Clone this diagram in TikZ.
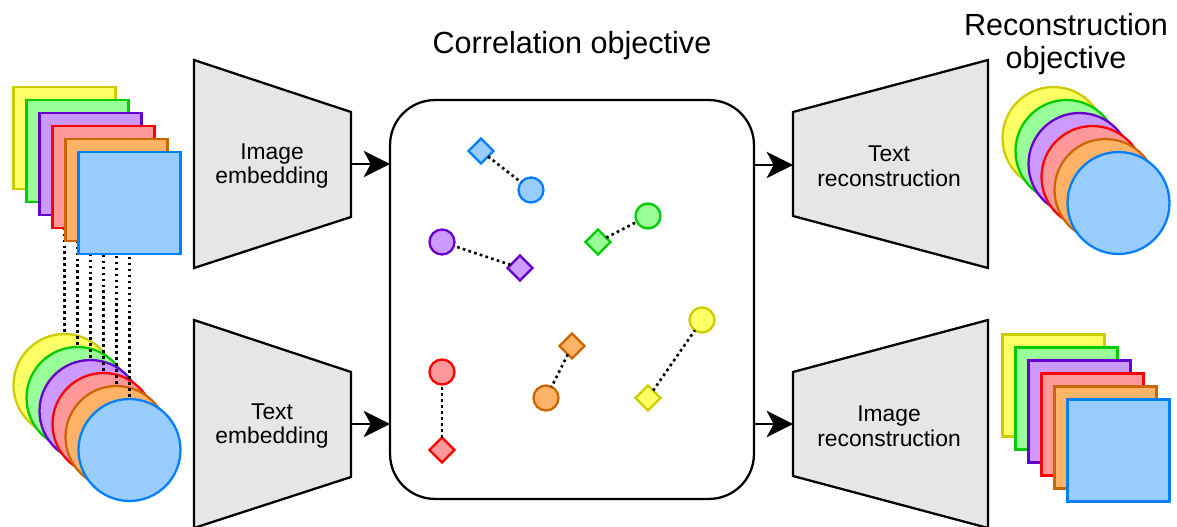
\documentclass[tikz,border=0pt]{standalone}
\usepackage{fontspec}
\setmainfont{Liberation Sans}
\usetikzlibrary{shapes.geometric,arrows.meta}
\definecolor{yelFill}{HTML}{FFFF66}\definecolor{yelLine}{HTML}{CCCC00}
\definecolor{grnFill}{HTML}{99FF99}\definecolor{grnLine}{HTML}{00CC00}
\definecolor{purFill}{HTML}{CC99FF}\definecolor{purLine}{HTML}{6600CC}
\definecolor{redFill}{HTML}{FF9999}\definecolor{redLine}{HTML}{FF0000}
\definecolor{orgFill}{HTML}{FFB366}\definecolor{orgLine}{HTML}{CC6600}
\definecolor{bluFill}{HTML}{99CCFF}\definecolor{bluLine}{HTML}{007FFF}
\definecolor{trapFill}{HTML}{E6E6E6}
\begin{document}
\begin{tikzpicture}[x=0.02cm,y=-0.02cm,line width=1.3pt,
  every node/.style={inner sep=0pt,outer sep=0pt},
  card/.style={rectangle,draw=#1Line,fill=#1Fill,minimum size=2.04cm},
  disc/.style={circle,draw=#1Line,fill=#1Fill,minimum size=2.04cm},
  mcirc/.style={circle,draw=#1Line,fill=#1Fill,minimum size=0.5cm},
  mdiam/.style={diamond,draw=#1Line,fill=#1Fill,minimum size=0.5cm},
  dots/.style={line width=1.5pt,dash pattern=on 1.5pt off 1.9pt},
  trap/.style={draw,fill=trapFill},
  arr/.style={-{Stealth[length=15pt,width=15pt,inset=4pt]}},
  lbl/.style={align=center,font=\fontsize{13}{14.2}\selectfont},
  ttl/.style={align=center,font=\fontsize{17.4}{18.7}\selectfont}]
\useasboundingbox (0,0) rectangle (1177,527);
% inputs: circles, dotted links, then squares on top
\foreach \c [count=\i from 0] in {yel,grn,pur,red,org,blu}
 \node[disc=\c] (inC\i) at ({64.5+13*\i},{385+13*\i}) {};
\foreach \i in {0,...,5}
 {\coordinate (inS\i) at ({64.5+13*\i},{138+13*\i});
 \draw[dots] (inS\i) -- (inC\i.north);}
\foreach \c [count=\i from 0] in {yel,grn,pur,red,org,blu}
 \node[card=\c] (inSq\i) at (inS\i) {};
% outputs
\foreach \c [count=\i from 0] in {yel,grn,pur,red,org,blu}
 {\node[disc=\c] (outC\i) at ({1053.5+13*\i},{138+13*\i}) {};
 \node[card=\c] (outSq\i) at ({1053.5+13*\i},{385.5+13*\i}) {};}
% encoders and decoders
\draw[trap] (194,60) -- (351,112) -- (351,217) -- (194,268) -- cycle;
\draw[trap] (194,320) -- (351,372) -- (351,477) -- (194,528) -- cycle;
\draw[trap] (793,112) -- (988,60) -- (988,268) -- (793,216) -- cycle;
\draw[trap] (793,372) -- (988,320) -- (988,528) -- (793,476) -- cycle;
\coordinate (encImgR) at (351,164);
\coordinate (encTxtR) at (351,424);
\coordinate (decTxtL) at (793,165);
\coordinate (decImgL) at (793,424);
\node[lbl] (encImg) at (272,166) {Image\\embedding};
\node[lbl] (encTxt) at (272,426) {Text\\embedding};
\node[lbl] (decTxt) at (889,166) {Text\\reconstruction};
\node[lbl] (decImg) at (889,426) {Image\\reconstruction};
% shared space
\node[draw,rounded corners=0.9cm,minimum width=7.28cm,minimum height=7.98cm]
 (corr) at (572,299.5) {};
\node[ttl] (corrTtl) at (572,46) {Correlation objective};
\node[ttl] (recTtl) at (1066,44) {Reconstruction\\objective};
\draw[arr] (encImgR) -- (encImgR -| corr.west);
\draw[arr] (encTxtR) -- (encTxtR -| corr.west);
\draw[arr] (corr.east |- decTxtL) -- (decTxtL);
\draw[arr] (corr.east |- decImgL) -- (decImgL);
\foreach \c/\dx/\dy/\cx/\cy in {blu/481/151/531/190, pur/520/268/442/242,
  grn/598/242/648/216, red/442/450/442/372, org/572/346/546/398,
  yel/648/398/702/320}
 {\node[mdiam=\c] (d\c) at (\dx,\dy) {};
 \node[mcirc=\c] (p\c) at (\cx,\cy) {};
 \draw[dots] (d\c) -- (p\c);}
\end{tikzpicture}
\end{document}
